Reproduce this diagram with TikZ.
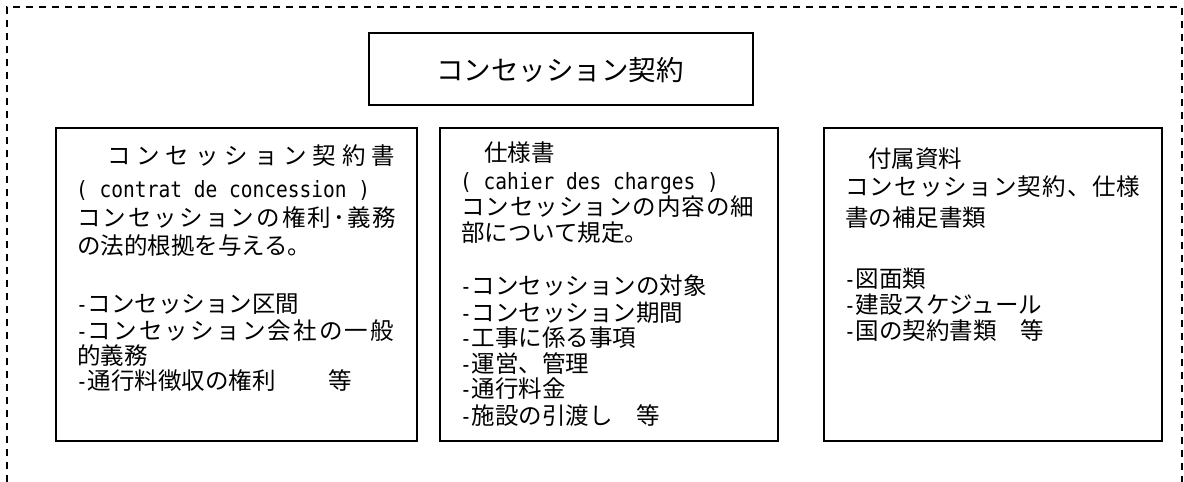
\documentclass[tikz,border=0pt]{standalone}
\usepackage{fontspec}
\setmainfont{Noto Sans CJK JP}
\newfontfamily\monofont{DejaVu Sans Mono}[Scale=0.95,FakeStretch=0.875]
\newcommand\lat[1]{{\monofont #1}}
\makeatletter
\def\spreadit#1{\spread@#1\@nil}
\def\spread@#1#2\@nil{#1\ifx\relax#2\relax\else\hfil\spread@#2\@nil\fi}
\makeatother
\newcommand\spr[2]{\makebox[#1][s]{\spreadit{#2}}}
\tikzset{
  frame/.style={draw=black, line width=1.2pt, dash pattern=on 7pt off 6pt},
  box/.style={draw=black, line width=1.6pt, anchor=north west, inner sep=0pt},
  ln/.style={anchor=base west, inner sep=0pt, font=\fontsize{23.5pt}{26pt}\selectfont},
  ttl/.style={anchor=base, inner sep=0pt, font=\fontsize{27.5pt}{30pt}\selectfont},
}
\begin{document}
\begin{tikzpicture}[x=1pt,y=-1pt]
\useasboundingbox (0,0) rectangle (1184,482);
\coordinate (fa) at (7,482);
\coordinate (fb) at (7,7);
\coordinate (fc) at (1182,7);
\coordinate (fd) at (1182,482);
\draw[frame] (fa) -- (fb) -- (fc) -- (fd);
% title
\node[box, minimum width=384pt, minimum height=72pt] (title) at (368,32) {};
\node[ttl] (titletext) at (560,80) {コンセッション契約};
% boxes
\node[box, minimum width=361pt, minimum height=313pt] (b1) at (55,127) {};
\node[box, minimum width=338pt, minimum height=313pt] (b2) at (439,127) {};
\node[box, minimum width=338pt, minimum height=313pt] (b3) at (823,127) {};
% box 1 text
\node[ln] (a1) at (107,164) {\spr{288pt}{コンセッション契約書}};
\node[ln] (a2) at (76,197) {\lat{( contrat de concession )}};
\node[ln] (a3) at (77,226) {\spr{319pt}{コンセッションの権利･義務}};
\node[ln] (a4) at (77,254) {の法的根拠を与える。};
\node[ln] (a5) at (76,312) {\lat{-}コンセッション区間};
\node[ln] (a6) at (76,339) {\lat{-}\spr{306pt}{コンセッション会社の一般}};
\node[ln] (a7) at (77,364) {的義務};
\node[ln] (a8) at (76,389) {\lat{-}通行料徴収の権利\hspace{53pt}等};
% box 2 text
\node[ln] (c1) at (484,161) {仕様書};
\node[ln] (c2) at (460,189) {\lat{( cahier des charges )}};
\node[ln] (c3) at (461,215) {\spr{293pt}{コンセッションの内容の細}};
\node[ln] (c4) at (461,241) {部について規定。};
\node[ln] (c5) at (460,294) {\lat{-}コンセッションの対象};
\node[ln] (c6) at (460,321) {\lat{-}コンセッション期間};
\node[ln] (c7) at (460,346) {\lat{-}工事に係る事項};
\node[ln] (c8) at (460,372) {\lat{-}運営、管理};
\node[ln] (c9) at (460,397) {\lat{-}通行料金};
\node[ln] (c10) at (460,424) {\lat{-}施設の引渡し\hspace{23.5pt}等};
% box 3 text
\node[ln] (d1) at (868,167) {付属資料};
\node[ln] (d2) at (845,195) {\spr{295pt}{コンセッション契約、仕様}};
\node[ln] (d3) at (845,226) {書の補足書類};
\node[ln] (d4) at (844,287) {\lat{-}図面類};
\node[ln] (d5) at (844,313) {\lat{-}建設スケジュール};
\node[ln] (d6) at (844,339) {\lat{-}国の契約書類\hspace{23.5pt}等};
\end{tikzpicture}
\end{document}
